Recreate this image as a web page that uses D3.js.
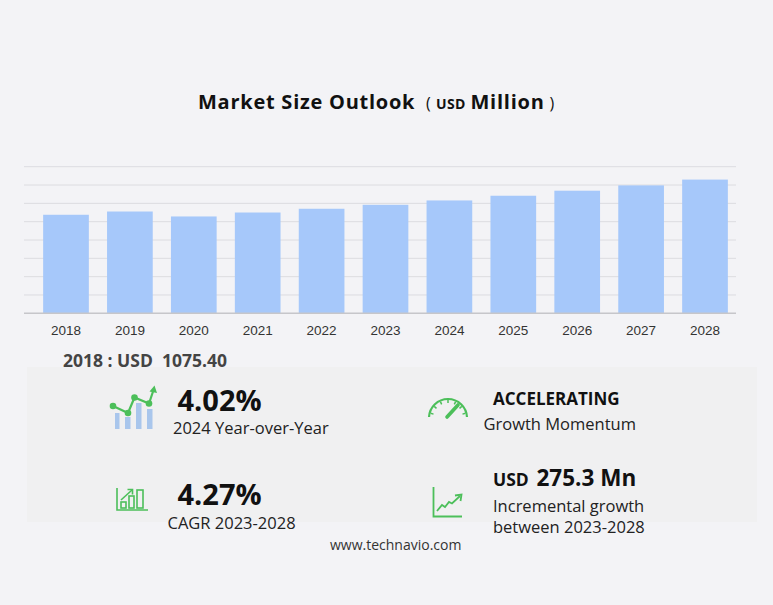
<!DOCTYPE html>
<html>
<head>
<meta charset="utf-8">
<script src="https://cdn.jsdelivr.net/npm/d3@7/dist/d3.min.js"></script>
<style>
  html, body { margin: 0; padding: 0; background: #f3f3f6; }
  svg { display: block; }
  .seg { font-family: "Open Sans", "Noto Sans", sans-serif; white-space: pre; }
</style>
</head>
<body>
<svg id="chart" width="773" height="605"></svg>
<script>
// ---- data ----
const years = ["2018","2019","2020","2021","2022","2023","2024","2025","2026","2027","2028"];
const marketSize = [1075.4, 1111, 1057, 1100, 1141, 1184.1, 1231.7, 1283, 1338, 1396, 1459.4];
const gridTicks = [0, 200, 400, 600, 800, 1000, 1200, 1400, 1600];

const titleMain = "Market Size Outlook";
const titleUnitSmall = "USD";
const titleUnit = "Million";
const baseYearLabel = "2018 : USD  1075.40";
const kpiYoY = "4.02%";
const kpiYoYLabel = "2024 Year-over-Year";
const kpiCagr = "4.27%";
const kpiCagrLabel = "CAGR 2023-2028";
const kpiMomentum = "ACCELERATING";
const kpiMomentumLabel = "Growth Momentum";
const kpiIncrUnit = "USD";
const kpiIncr = "275.3 Mn";
const kpiIncrLabel1 = "Incremental growth";
const kpiIncrLabel2 = "between 2023-2028";
const sourceLabel = "www.technavio.com";

// ---- layout ----
const svg = d3.select("#chart");
const green = "#4cbf5a";
const barColor = "#a6c8fa";

const plot = { left: 24, right: 736, top: 166.7, bottom: 313.3 };

const x = d3.scaleBand()
  .domain(years)
  .range([34.2, 736.8])
  .paddingInner(0.285)
  .paddingOuter(0.14);

const y = d3.scaleLinear()
  .domain([0, 1600])
  .range([plot.bottom, plot.top]);

// title
const tg = svg.append("g").attr("class", "seg").attr("fill", "#111").attr("font-weight", 700);
tg.append("text").attr("x", 198).attr("y", 108.5).attr("font-size", 20)
  .attr("letter-spacing", 0.75).text(titleMain);
tg.append("text").attr("x", 426).attr("y", 108.5).attr("font-size", 16).attr("font-weight", 400).text("(");
tg.append("text").attr("x", 436).attr("y", 108.5).attr("font-size", 14).attr("letter-spacing", 0.4).text(titleUnitSmall);
tg.append("text").attr("x", 470.5).attr("y", 108.5).attr("font-size", 20).attr("letter-spacing", 0.75).text(titleUnit);
tg.append("text").attr("x", 549.5).attr("y", 108.5).attr("font-size", 16).attr("font-weight", 400).text(")");

// gridlines
svg.append("g").selectAll("line")
  .data(gridTicks.filter(d => d > 0))
  .join("line")
  .attr("x1", plot.left).attr("x2", plot.right)
  .attr("y1", d => y(d)).attr("y2", d => y(d))
  .attr("stroke", "#dcdce0").attr("stroke-width", 1);

// bars
svg.append("g").selectAll("rect")
  .data(years)
  .join("rect")
  .attr("x", d => x(d))
  .attr("width", x.bandwidth())
  .attr("y", (d, i) => y(marketSize[i]))
  .attr("height", (d, i) => y(0) - y(marketSize[i]))
  .attr("fill", barColor);

// baseline
svg.append("line")
  .attr("x1", plot.left).attr("x2", plot.right)
  .attr("y1", y(0)).attr("y2", y(0))
  .attr("stroke", "#c6c6ca").attr("stroke-width", 1.5);

// x axis labels
const xAxis = d3.axisBottom(x).tickSize(0).tickPadding(12.5);
const gx = svg.append("g").attr("transform", `translate(0,${y(0)})`).call(xAxis);
gx.select(".domain").remove();
gx.selectAll("text")
  .attr("font-family", "'Liberation Sans', Arial, sans-serif")
  .attr("font-size", 13.5).attr("fill", "#333");

// KPI panel background
svg.append("rect")
  .attr("x", 27).attr("y", 367).attr("width", 730).attr("height", 155)
  .attr("fill", "#f0f0f1");

// base year label
svg.append("text").attr("class", "seg")
  .attr("x", 63).attr("y", 367)
  .attr("font-size", 17.5).attr("font-weight", 700).attr("fill", "#444")
  .text(baseYearLabel);

// KPI texts
function txt(xp, yp, s, size, weight, color) {
  return svg.append("text").attr("class", "seg")
    .attr("x", xp).attr("y", yp)
    .attr("font-size", size).attr("font-weight", weight).attr("fill", color)
    .text(s);
}
txt(177.5, 410.5, kpiYoY, 29, 700, "#111");
txt(173, 434, kpiYoYLabel, 16.5, 400, "#222");
txt(177.5, 505, kpiCagr, 29, 700, "#111");
txt(167.5, 529, kpiCagrLabel, 16.5, 400, "#222");
txt(493, 405, kpiMomentum, 17, 700, "#111");
txt(483.5, 429.5, kpiMomentumLabel, 16.5, 400, "#222");
txt(493, 486, kpiIncrUnit, 17.5, 700, "#111");
txt(536.5, 486, kpiIncr, 22.5, 700, "#111");
txt(493, 512, kpiIncrLabel1, 16.5, 400, "#222");
txt(493, 533, kpiIncrLabel2, 16.5, 400, "#222");
txt(330, 550, sourceLabel, 14, 400, "#333");

// ---- icons ----
// icon 1: bars + trend line
const ic1 = svg.append("g");
[[115, 413, 119.5], [125, 417, 130.5], [136, 403, 141.5], [147, 409, 152.5]].forEach(b => {
  ic1.append("rect").attr("x", b[0]).attr("y", b[1]).attr("width", b[2] - b[0])
    .attr("height", 429 - b[1]).attr("fill", "#a9c6ec");
});
const pts = [[113, 406], [128, 413], [134.5, 397.5], [149, 403.5]];
ic1.append("path").attr("d", d3.line()([...pts, [153.5, 390]]))
  .attr("fill", "none").attr("stroke", green).attr("stroke-width", 2.2);
ic1.selectAll("circle").data(pts).join("circle")
  .attr("cx", d => d[0]).attr("cy", d => d[1]).attr("r", 3.3).attr("fill", green);
ic1.append("path").attr("d", "M149.5,391.5 L154.5,385.5 L157,393 Z").attr("fill", green);

// icon 2: outlined bar chart
const ic2 = svg.append("g").attr("fill", "none").attr("stroke", green).attr("stroke-width", 1.6);
ic2.append("path").attr("d", "M117,488 V510 H148");
ic2.append("rect").attr("x", 121).attr("y", 502).attr("width", 5).attr("height", 6);
ic2.append("rect").attr("x", 129).attr("y", 496).attr("width", 5).attr("height", 12);
ic2.append("rect").attr("x", 137).attr("y", 490).attr("width", 6).attr("height", 18);
ic2.append("path").attr("d", "M121,500 L132,490");
ic2.append("path").attr("d", "M127.5,489.5 L132.5,489.5 L132.5,494.5");

// icon 3: gauge
const ic3 = svg.append("g").attr("fill", "none").attr("stroke", green);
const gc = [448, 418], gr = 19;
ic3.append("path")
  .attr("d", d3.arc()({ innerRadius: gr, outerRadius: gr, startAngle: -Math.PI / 2 + 0.05, endAngle: Math.PI / 2 - 0.05 }))
  .attr("transform", `translate(${gc[0]},${gc[1]})`).attr("stroke-width", 2.2);
d3.range(-75, 76, 25).forEach(a => {
  const r = a * Math.PI / 180;
  ic3.append("line")
    .attr("x1", gc[0] + Math.sin(r) * (gr - 1)).attr("y1", gc[1] - Math.cos(r) * (gr - 1))
    .attr("x2", gc[0] + Math.sin(r) * (gr - 4)).attr("y2", gc[1] - Math.cos(r) * (gr - 4))
    .attr("stroke-width", 1.5);
});
ic3.append("line").attr("x1", gc[0] - 1).attr("y1", gc[1] - 1).attr("x2", gc[0] + 10).attr("y2", gc[1] - 13)
  .attr("stroke-width", 3.6).attr("stroke-linecap", "round");

// icon 4: line chart
const ic4 = svg.append("g").attr("fill", "none").attr("stroke", green).attr("stroke-width", 1.8);
ic4.append("path").attr("d", "M433.5,487 V516.5 H462");
ic4.append("path").attr("d", "M437,511 L442,505 L445,507 L449,502 L452,503.5 L460,496");
ic4.append("path").attr("d", "M455,495.5 L461.5,494.5 L460.5,501");
</script>
</body>
</html>
